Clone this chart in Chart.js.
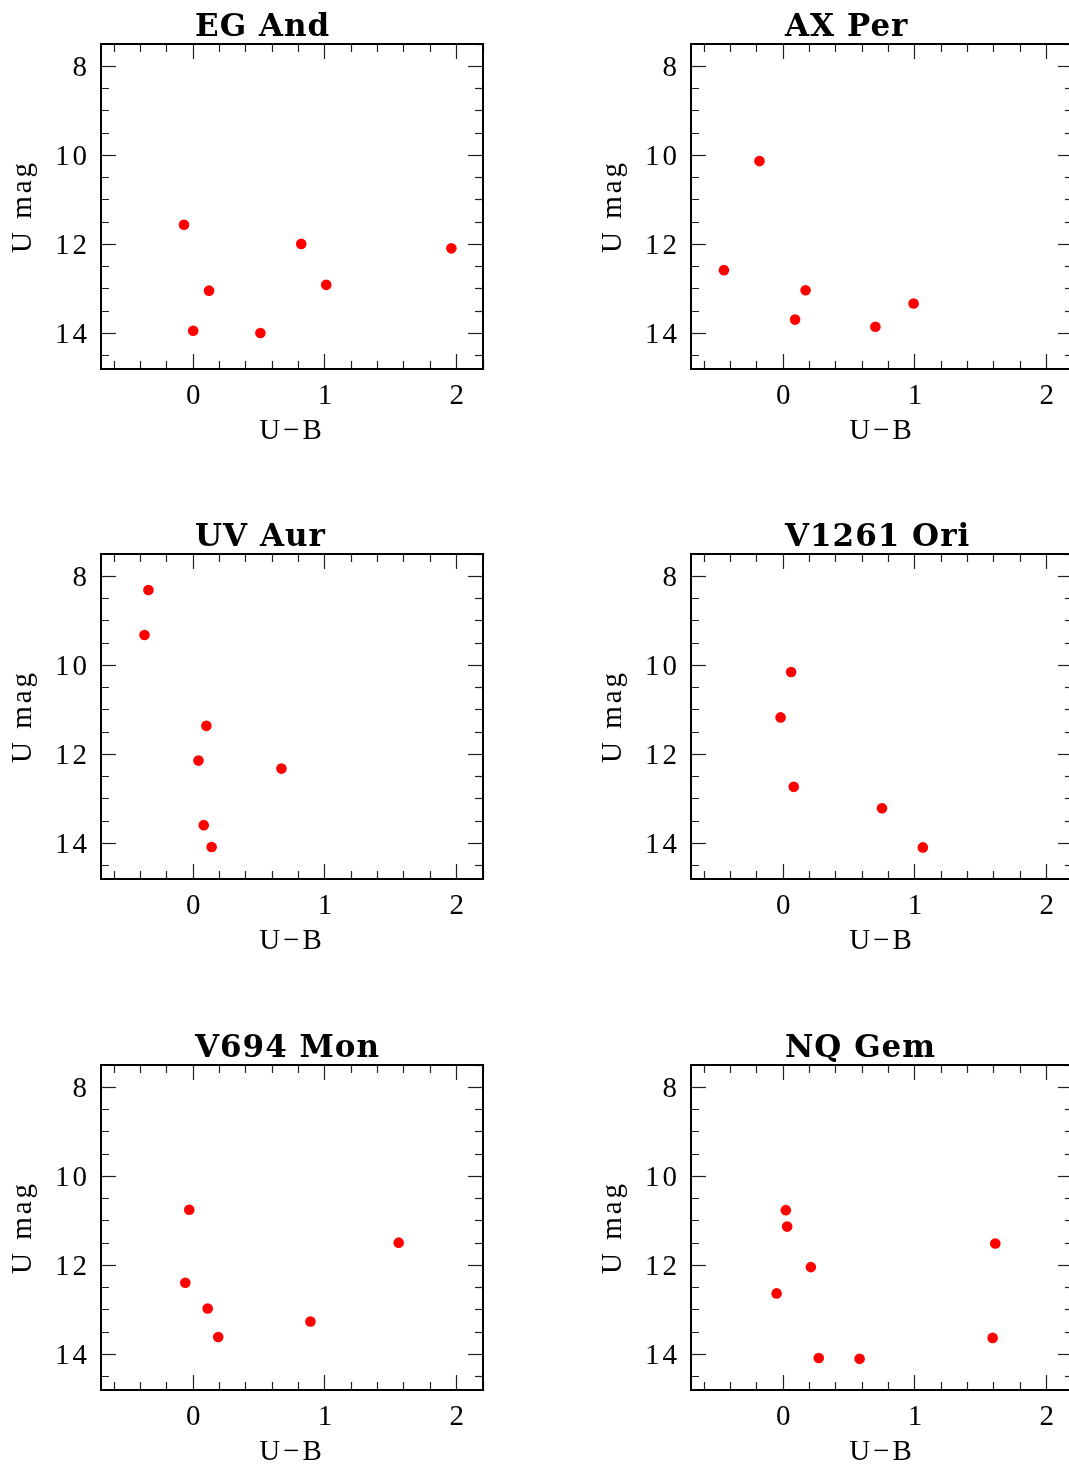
<!DOCTYPE html>
<html>
<head>
<meta charset="utf-8">
<script src="https://cdn.jsdelivr.net/npm/chart.js@4.4.1/dist/chart.umd.min.js"></script>
<style>
  html, body { margin: 0; padding: 0; background: #fff; overflow: hidden; }
  body { width: 1069px; height: 1468px; position: relative; }
  canvas { position: absolute; }
</style>
</head>
<body>
<script>
// ---- Data ----
const panelTitles = ['EG And', 'AX Per', 'UV Aur', 'V1261 Ori', 'V694 Mon', 'NQ Gem'];

const egAndUB = [-0.07, 0.82, 1.96, 0.12, 1.01, 0.00, 0.51];
const egAndU  = [11.56, 11.99, 12.09, 13.04, 12.91, 13.94, 13.99];

const axPerUB = [-0.18, -0.45, 0.17, 0.09, 0.70, 0.99];
const axPerU  = [10.13, 12.58, 13.03, 13.69, 13.85, 13.33];

const uvAurUB = [-0.34, -0.37, 0.10, 0.04, 0.67, 0.08, 0.14];
const uvAurU  = [8.31, 9.32, 11.36, 12.14, 12.32, 13.59, 14.08];

const v1261OriUB = [0.06, -0.02, 0.08, 0.75, 1.06];
const v1261OriU  = [10.15, 11.17, 12.73, 13.21, 14.09];

const v694MonUB = [-0.03, 1.56, -0.06, 0.11, 0.89, 0.19];
const v694MonU  = [10.75, 11.49, 12.39, 12.97, 13.26, 13.61];

const nqGemUB = [0.02, 0.03, 1.61, 0.21, -0.05, 1.59, 0.27, 0.58];
const nqGemU  = [10.76, 11.13, 11.51, 12.04, 12.63, 13.63, 14.08, 14.10];

const xTickLabels = [0, 1, 2];
const yTickLabels = [8, 10, 12, 14];
const xMin = -0.7, xMax = 2.2, xStep = 0.2;
const yMin = 7.5, yMax = 14.8, yStep = 0.5;
const xTitle = 'U\u2212B';
const yTitle = 'U mag';

const panelData = [
  [egAndUB, egAndU], [axPerUB, axPerU],
  [uvAurUB, uvAurU], [v1261OriUB, v1261OriU],
  [v694MonUB, v694MonU], [nqGemUB, nqGemU]
];

// ---- Layout / style ----
const CANVAS_W = 530, CANVAS_H = 510;
const colLeft = [0, 590];
const rowTop = [0, 510, 1021];
const labelFont = { family: '"Liberation Serif", "Times New Roman", serif', size: 29, lineHeight: 1 };
const TL = -15;               // inward tick length
const tickColor = '#222';

function inList(list, v) { return list.some(t => Math.abs(t - v) < 1e-6); }

// minor tick dash: ticks that start at the border -> draw first 9px; ticks that start inside -> skip first 7px
function dashFromBorder(list) {
  return ctx => (ctx.tick && inList(list, ctx.tick.value)) ? [] : [9, 60];
}
function dashFromInside(list) {
  return ctx => (ctx.tick && inList(list, ctx.tick.value)) ? [] : [0, 7, 60];
}

// wider letter spacing, like the plotting package's stroke font
const spacingPlugin = {
  id: 'spacing',
  beforeDraw(chart) {
    if ('letterSpacing' in chart.ctx) chart.ctx.letterSpacing = '3px';
  }
};

const panelTitlePlugin = {
  id: 'panelTitle',
  afterDraw(chart, args, opts) {
    const ctx = chart.ctx;
    ctx.save();
    ctx.font = 'bold 31px "DejaVu Serif", serif';
    if ('letterSpacing' in ctx) ctx.letterSpacing = '1px';
    ctx.fillStyle = '#000';
    ctx.textAlign = 'left';
    ctx.textBaseline = 'alphabetic';
    ctx.fillText(opts.text, chart.chartArea.left + 94, chart.chartArea.top - 8);
    ctx.restore();
  }
};

function borderOpts() { return { display: true, color: '#000', width: 2 }; }

function makeChart(canvas, title, xs, ys) {
  const pts = xs.map((x, i) => ({ x: x, y: ys[i] }));
  return new Chart(canvas, {
    type: 'scatter',
    data: {
      datasets: [{
        data: pts,
        backgroundColor: 'rgb(255,0,0)',
        borderColor: 'rgb(255,0,0)',
        borderWidth: 0,
        pointRadius: 5.3,
        pointHoverRadius: 5.3,
        xAxisID: 'x',
        yAxisID: 'y'
      }]
    },
    options: {
      responsive: false,
      animation: false,
      events: [],
      layout: { padding: { left: 0, right: 47, top: 44, bottom: 41 } },
      plugins: {
        legend: { display: false },
        tooltip: { enabled: false },
        title: { display: false },
        panelTitle: { text: title }
      },
      scales: {
        x: {
          type: 'linear', position: 'bottom', min: xMin, max: xMax,
          afterFit: s => { s.height = 100; },
          border: borderOpts(),
          grid: { drawOnChartArea: false, drawTicks: true, tickLength: TL,
                  tickColor: tickColor, tickWidth: 1.2,
                  tickBorderDash: dashFromBorder(xTickLabels) },
          ticks: { stepSize: xStep, includeBounds: false, autoSkip: false,
                   maxRotation: 0, minRotation: 0, padding: 28, labelOffset: 1.5,
                   color: '#000', font: labelFont,
                   callback: v => inList(xTickLabels, v) ? String(Math.round(v)) : '' },
          title: { display: true, text: xTitle, color: '#000', font: labelFont,
                   padding: { top: 0, bottom: 23 } }
        },
        x2: {
          type: 'linear', position: 'top', min: xMin, max: xMax,
          afterFit: s => { s.height = 0; },
          border: borderOpts(),
          grid: { drawOnChartArea: false, drawTicks: true, tickLength: TL,
                  tickColor: tickColor, tickWidth: 1.2,
                  tickBorderDash: dashFromInside(xTickLabels) },
          ticks: { display: false, stepSize: xStep, includeBounds: false, autoSkip: false }
        },
        y: {
          type: 'linear', position: 'left', reverse: true, min: yMin, max: yMax,
          afterFit: s => { s.width = 101; },
          border: borderOpts(),
          grid: { drawOnChartArea: false, drawTicks: true, tickLength: TL,
                  tickColor: tickColor, tickWidth: 1.2,
                  tickBorderDash: dashFromInside(yTickLabels) },
          ticks: { stepSize: yStep, includeBounds: false, autoSkip: false,
                   padding: 26, labelOffset: 2, color: '#000', font: labelFont,
                   callback: v => inList(yTickLabels, v) ? String(Math.round(v)) : '' },
          title: { display: true, text: yTitle, color: '#000', font: labelFont,
                   padding: { top: 9, bottom: 0 } }
        },
        y2: {
          type: 'linear', position: 'right', reverse: true, min: yMin, max: yMax,
          afterFit: s => { s.width = 0; },
          border: borderOpts(),
          grid: { drawOnChartArea: false, drawTicks: true, tickLength: TL,
                  tickColor: tickColor, tickWidth: 1.2,
                  tickBorderDash: dashFromBorder(yTickLabels) },
          ticks: { display: false, stepSize: yStep, includeBounds: false, autoSkip: false }
        }
      }
    },
    plugins: [spacingPlugin, panelTitlePlugin]
  });
}

panelTitles.forEach((t, i) => {
  const c = document.createElement('canvas');
  c.width = CANVAS_W; c.height = CANVAS_H;
  c.style.left = colLeft[i % 2] + 'px';
  c.style.top = rowTop[Math.floor(i / 2)] + 'px';
  c.style.width = CANVAS_W + 'px'; c.style.height = CANVAS_H + 'px';
  document.body.appendChild(c);
  makeChart(c, t, panelData[i][0], panelData[i][1]);
});
</script>
</body>
</html>
